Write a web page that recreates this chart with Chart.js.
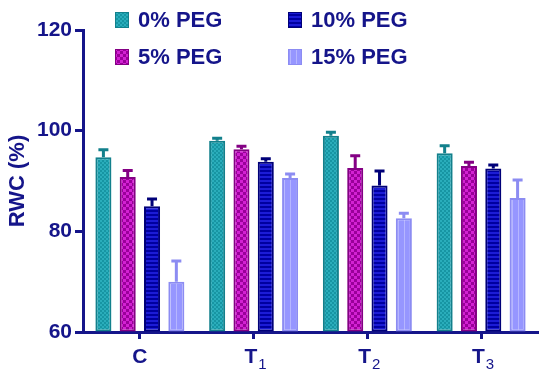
<!DOCTYPE html>
<html>
<head>
<meta charset="utf-8">
<script src="https://cdn.jsdelivr.net/npm/chart.js@4.4.0/dist/chart.umd.min.js"></script>
<style>
  html, body { margin: 0; padding: 0; background: #fff; }
  #wrap { width: 550px; height: 381px; position: relative; }
</style>
</head>
<body>
<div id="wrap"><canvas id="rwcChart" width="550" height="381"></canvas></div>
<script>
// data
const categories = ['C', 'T1', 'T2', 'T3'];
const seriesNames = ['0% PEG', '5% PEG', '10% PEG', '15% PEG'];
const peg0 = [94.7, 98.0, 99.0, 95.5];
const peg5 = [90.8, 96.3, 92.6, 93.0];
const peg10 = [85.0, 93.8, 89.1, 92.5];
const peg15 = [70.0, 90.6, 82.6, 86.6];
const err0 = [1.7, 0.7, 0.9, 1.7];
const err5 = [1.5, 0.8, 2.6, 0.9];
const err10 = [1.6, 0.8, 3.1, 0.9];
const err15 = [4.3, 1.0, 1.2, 3.8];
const yTicks = [60, 80, 100, 120];

const navy = '#15158a';
const fontFam = '"Liberation Sans", Arial, sans-serif';

function makePattern(w, h, drawFn) {
    const c = document.createElement('canvas');
    c.width = w; c.height = h;
    const g = c.getContext('2d');
    drawFn(g);
    return g.createPattern(c, 'repeat');
}

const tealFill = makePattern(4, 4, g => {
    g.fillStyle = '#1795a3'; g.fillRect(0, 0, 4, 4);
    g.fillStyle = '#2aadbb'; g.fillRect(0, 0, 2, 2); g.fillRect(2, 2, 2, 2);
});
const magentaFill = makePattern(6, 6, g => {
    g.fillStyle = '#9a009a'; g.fillRect(0, 0, 6, 6);
    g.fillStyle = '#d322d3'; g.fillRect(0, 0, 3, 3); g.fillRect(3, 3, 3, 3);
});
const navyFill = makePattern(4, 4, g => {
    g.fillStyle = '#0000a0'; g.fillRect(0, 0, 4, 4);
    g.fillStyle = '#1c1cd6'; g.fillRect(0, 0, 4, 2);
});
const lightFill = makePattern(6, 4, g => {
    g.fillStyle = '#9696ff'; g.fillRect(0, 0, 6, 4);
    g.fillStyle = '#b6b6ff'; g.fillRect(2, 0, 1, 4);
});

const values = [peg0, peg5, peg10, peg15];
const errors = [err0, err5, err10, err15];
const fills = [tealFill, magentaFill, navyFill, lightFill];
const borders = ['#12808c', '#840084', '#000078', '#8c8cf2'];

const datasets = seriesNames.map((name, i) => ({
    label: name,
    data: values[i],
    errors: errors[i],
    base: 60,
    backgroundColor: fills[i],
    borderColor: borders[i],
    borderWidth: 2,
    borderSkipped: false,
    barPercentage: 0.66,
    categoryPercentage: 0.855
}));

// upper error bars with caps
const errorBars = {
    id: 'errorBars',
    afterDatasetsDraw(chart) {
        const ctx = chart.ctx;
        const y = chart.scales.y;
        chart.data.datasets.forEach((ds, i) => {
            const meta = chart.getDatasetMeta(i);
            meta.data.forEach((bar, j) => {
                const top = y.getPixelForValue(ds.data[j] + ds.errors[j]);
                ctx.save();
                ctx.strokeStyle = ds.borderColor;
                ctx.lineWidth = 3;
                ctx.beginPath();
                ctx.moveTo(bar.x, bar.y);
                ctx.lineTo(bar.x, top);
                ctx.moveTo(bar.x - 5, top + 1);
                ctx.lineTo(bar.x + 5, top + 1);
                ctx.stroke();
                ctx.restore();
            });
        });
    }
};

// category labels with subscripts
const xLabels = {
    id: 'xLabels',
    afterDraw(chart) {
        const ctx = chart.ctx;
        const x = chart.scales.x;
        ctx.save();
        ctx.fillStyle = navy;
        ctx.textBaseline = 'alphabetic';
        ctx.textAlign = 'left';
        categories.forEach((cat, j) => {
            const px = x.getPixelForValue(j);
            const main = cat.charAt(0);
            const sub = cat.slice(1);
            ctx.font = 'bold 21px ' + fontFam;
            const mw = ctx.measureText(main).width;
            ctx.font = '15px ' + fontFam;
            const sw = sub ? ctx.measureText(sub).width + 1 : 0;
            const start = px - (mw + sw) / 2 + (sub ? 2 : 0);
            ctx.font = 'bold 21px ' + fontFam;
            ctx.fillText(main, start, 363);
            if (sub) {
                ctx.font = '15px ' + fontFam;
                ctx.fillText(sub, start + mw + 1, 369);
            }
        });
        ctx.restore();
    }
};

// 2x2 legend in the top area
const gridLegend = {
    id: 'gridLegend',
    afterDraw(chart) {
        const ctx = chart.ctx;
        const colX = [115, 288];
        const rowY = [20, 57];
        ctx.save();
        chart.data.datasets.forEach((ds, i) => {
            const cx = colX[Math.floor(i / 2)];
            const cy = rowY[i % 2];
            ctx.fillStyle = ds.backgroundColor;
            ctx.fillRect(cx, cy - 8, 14, 16);
            ctx.strokeStyle = ds.borderColor;
            ctx.lineWidth = 1;
            ctx.strokeRect(cx + 0.5, cy - 7.5, 13, 15);
            ctx.fillStyle = navy;
            ctx.font = 'bold 22px ' + fontFam;
            ctx.textBaseline = 'middle';
            ctx.fillText(ds.label, cx + 23, cy + 1);
        });
        ctx.restore();
    }
};

new Chart(document.getElementById('rwcChart'), {
    type: 'bar',
    data: { labels: categories, datasets: datasets },
    options: {
        responsive: false,
        animation: false,
        layout: { padding: { left: 0, top: 30, right: 12, bottom: 0 } },
        plugins: {
            legend: { display: false },
            tooltip: { enabled: false }
        },
        scales: {
            x: {
                grid: {
                    display: true, drawOnChartArea: false, offset: false,
                    tickLength: 7, tickWidth: 3, tickColor: navy
                },
                border: { display: true, color: navy, width: 3 },
                ticks: { display: false },
                afterFit(scale) { scale.height = 49; }
            },
            y: {
                min: 60, max: 120,
                afterBuildTicks(scale) { scale.ticks = yTicks.map(v => ({ value: v })); },
                grid: {
                    display: true, drawOnChartArea: false,
                    tickLength: 8, tickWidth: 3, tickColor: navy
                },
                border: { display: true, color: navy, width: 3 },
                ticks: {
                    color: navy, padding: 3,
                    font: { family: fontFam, size: 21, weight: 'bold' }
                },
                title: {
                    display: true, text: 'RWC (%)', color: navy, padding: { top: 5, bottom: 0 },
                    font: { family: fontFam, size: 22, weight: 'bold' }
                },
                afterFit(scale) { scale.width = 83; }
            }
        }
    },
    plugins: [errorBars, xLabels, gridLegend]
});
</script>
</body>
</html>
